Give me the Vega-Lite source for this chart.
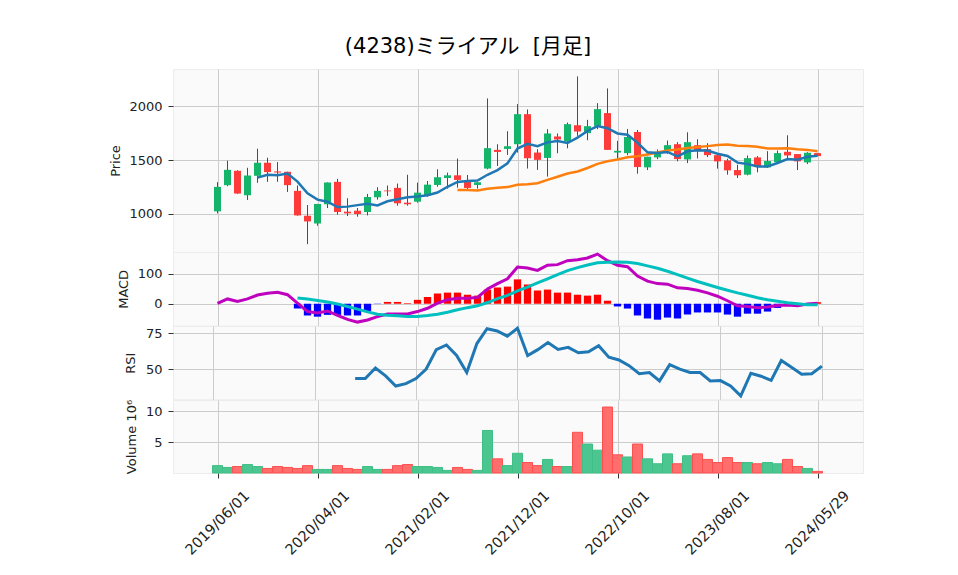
{
  "$schema": "https://vega.github.io/schema/vega-lite/v6.json",
  "background": "white",
  "padding": {"left": 108, "top": 35, "right": 10, "bottom": 5},
  "title": {"text": "(4238)ミライアル\u00a0\u00a0[月足]", "font": "DejaVu Sans, Noto Sans CJK JP", "fontSize": 21, "fontWeight": "normal", "color": "#000000", "anchor": "middle", "offset": 12, "dx": -18},
  "spacing": 0,
  "bounds": "flush",
  "config": {
    "view": {"fill": "#fafafa", "stroke": "#ececec"},
    "axis": {"labelFont": "DejaVu Sans", "titleFont": "DejaVu Sans", "labelFontSize": 13, "titleFontSize": 13, "titleFontWeight": "normal", "gridColor": "#cccccc", "gridWidth": 1, "tickColor": "#333333", "tickSize": 5, "labelPadding": 6, "domain": false, "labelColor": "#222222", "titleColor": "#222222", "titleBaseline": "middle", "format": "d"}
  },
  "data": {"values": [
    {"date":"2019-06-01","i":0,"open":1022,"high":1294,"low":1003,"close":1250,"volume":1.2,"trend":"up","ma5":null,"ma25":null,"macd":1,"signal":null,"hist":null,"rsi":null},
    {"date":"2019-07-01","i":1,"open":1266,"high":1494,"low":1256,"close":1409,"volume":0.9,"trend":"up","ma5":null,"ma25":null,"macd":16,"signal":null,"hist":null,"rsi":null},
    {"date":"2019-08-01","i":2,"open":1400,"high":1405,"low":1185,"close":1188,"volume":1.05,"trend":"down","ma5":null,"ma25":null,"macd":8,"signal":null,"hist":null,"rsi":null},
    {"date":"2019-09-01","i":3,"open":1172,"high":1428,"low":1128,"close":1356,"volume":1.37,"trend":"up","ma5":null,"ma25":null,"macd":16,"signal":null,"hist":null,"rsi":null},
    {"date":"2019-10-01","i":4,"open":1353,"high":1606,"low":1288,"close":1475,"volume":1.05,"trend":"up","ma5":1336,"ma25":null,"macd":29,"signal":null,"hist":null,"rsi":null},
    {"date":"2019-11-01","i":5,"open":1475,"high":1522,"low":1297,"close":1388,"volume":0.74,"trend":"down","ma5":1363,"ma25":null,"macd":35,"signal":null,"hist":null,"rsi":null},
    {"date":"2019-12-01","i":6,"open":1394,"high":1481,"low":1297,"close":1384,"volume":1.05,"trend":"down","ma5":1358,"ma25":null,"macd":38,"signal":null,"hist":null,"rsi":null},
    {"date":"2020-01-01","i":7,"open":1391,"high":1391,"low":1203,"close":1266,"volume":0.9,"trend":"down","ma5":1374,"ma25":null,"macd":30,"signal":null,"hist":null,"rsi":null},
    {"date":"2020-02-01","i":8,"open":1213,"high":1263,"low":981,"close":984,"volume":0.74,"trend":"down","ma5":1299,"ma25":null,"macd":2,"signal":19,"hist":-16,"rsi":null},
    {"date":"2020-03-01","i":9,"open":981,"high":1081,"low":716,"close":928,"volume":1.2,"trend":"down","ma5":1190,"ma25":null,"macd":-26,"signal":16,"hist":-39,"rsi":null},
    {"date":"2020-04-01","i":10,"open":909,"high":1091,"low":888,"close":1091,"volume":0.58,"trend":"up","ma5":1131,"ma25":null,"macd":-31,"signal":11,"hist":-43,"rsi":null},
    {"date":"2020-05-01","i":11,"open":1088,"high":1291,"low":1053,"close":1291,"volume":0.58,"trend":"up","ma5":1112,"ma25":null,"macd":-24,"signal":6,"hist":-37,"rsi":null},
    {"date":"2020-06-01","i":12,"open":1297,"high":1325,"low":991,"close":1016,"volume":1.2,"trend":"down","ma5":1062,"ma25":null,"macd":-39,"signal":-1,"hist":-37,"rsi":null},
    {"date":"2020-07-01","i":13,"open":1019,"high":1144,"low":978,"close":1003,"volume":0.74,"trend":"down","ma5":1066,"ma25":null,"macd":-52,"signal":-9,"hist":-39,"rsi":null},
    {"date":"2020-08-01","i":14,"open":1028,"high":1053,"low":972,"close":997,"volume":0.58,"trend":"down","ma5":1080,"ma25":null,"macd":-61,"signal":-18,"hist":-39,"rsi":43.3},
    {"date":"2020-09-01","i":15,"open":1016,"high":1184,"low":984,"close":1156,"volume":1.05,"trend":"up","ma5":1093,"ma25":null,"macd":-54,"signal":-27,"hist":-24,"rsi":43.3},
    {"date":"2020-10-01","i":16,"open":1153,"high":1247,"low":1131,"close":1213,"volume":0.58,"trend":"up","ma5":1077,"ma25":null,"macd":-43,"signal":-35,"hist":-1,"rsi":50.7},
    {"date":"2020-11-01","i":17,"open":1216,"high":1263,"low":1166,"close":1209,"volume":0.58,"trend":"down","ma5":1116,"ma25":null,"macd":-34,"signal":-38,"hist":6,"rsi":45.2},
    {"date":"2020-12-01","i":18,"open":1241,"high":1281,"low":1075,"close":1097,"volume":1.2,"trend":"down","ma5":1134,"ma25":null,"macd":-34,"signal":-40,"hist":6,"rsi":38.1},
    {"date":"2021-01-01","i":19,"open":1103,"high":1363,"low":1075,"close":1088,"volume":1.37,"trend":"down","ma5":1153,"ma25":null,"macd":-34,"signal":-42,"hist":2,"rsi":39.8},
    {"date":"2021-02-01","i":20,"open":1112,"high":1290,"low":1103,"close":1196,"volume":1.05,"trend":"up","ma5":1161,"ma25":null,"macd":-26,"signal":-42,"hist":13,"rsi":43.3},
    {"date":"2021-03-01","i":21,"open":1171,"high":1305,"low":1159,"close":1271,"volume":1.05,"trend":"up","ma5":1172,"ma25":null,"macd":-15,"signal":-39,"hist":22,"rsi":50},
    {"date":"2021-04-01","i":22,"open":1268,"high":1414,"low":1252,"close":1340,"volume":0.9,"trend":"up","ma5":1198,"ma25":null,"macd":2,"signal":-35,"hist":34,"rsi":63.6},
    {"date":"2021-05-01","i":23,"open":1333,"high":1383,"low":1234,"close":1358,"volume":0.42,"trend":"up","ma5":1251,"ma25":null,"macd":13,"signal":-28,"hist":37,"rsi":66.9},
    {"date":"2021-06-01","i":24,"open":1358,"high":1514,"low":1243,"close":1315,"volume":0.9,"trend":"down","ma5":1296,"ma25":1221,"macd":18,"signal":-20,"hist":37,"rsi":59.5},
    {"date":"2021-07-01","i":25,"open":1299,"high":1361,"low":1227,"close":1240,"volume":0.58,"trend":"down","ma5":1305,"ma25":1220,"macd":18,"signal":-13,"hist":30,"rsi":47.6},
    {"date":"2021-08-01","i":26,"open":1268,"high":1293,"low":1234,"close":1293,"volume":0.42,"trend":"up","ma5":1309,"ma25":1216,"macd":21,"signal":-7,"hist":27,"rsi":67.9},
    {"date":"2021-09-01","i":27,"open":1421,"high":2075,"low":1414,"close":1611,"volume":6.9,"trend":"up","ma5":1363,"ma25":1233,"macd":49,"signal":4,"hist":47,"rsi":78.3},
    {"date":"2021-10-01","i":28,"open":1595,"high":1648,"low":1445,"close":1576,"volume":2.3,"trend":"down","ma5":1407,"ma25":1241,"macd":67,"signal":17,"hist":54,"rsi":76.7},
    {"date":"2021-11-01","i":29,"open":1604,"high":1769,"low":1548,"close":1629,"volume":1.2,"trend":"up","ma5":1470,"ma25":1248,"macd":83,"signal":28,"hist":57,"rsi":73.1},
    {"date":"2021-12-01","i":30,"open":1648,"high":2022,"low":1570,"close":1928,"volume":3.2,"trend":"up","ma5":1607,"ma25":1269,"macd":122,"signal":43,"hist":81,"rsi":78.6},
    {"date":"2022-01-01","i":31,"open":1928,"high":1972,"low":1421,"close":1517,"volume":1.7,"trend":"down","ma5":1652,"ma25":1275,"macd":119,"signal":55,"hist":64,"rsi":59.5},
    {"date":"2022-02-01","i":32,"open":1570,"high":1601,"low":1408,"close":1502,"volume":1.2,"trend":"down","ma5":1630,"ma25":1284,"macd":111,"signal":69,"hist":44,"rsi":63.6},
    {"date":"2022-03-01","i":33,"open":1520,"high":1788,"low":1346,"close":1748,"volume":2.2,"trend":"up","ma5":1665,"ma25":1315,"macd":128,"signal":83,"hist":47,"rsi":68.6},
    {"date":"2022-04-01","i":34,"open":1720,"high":1748,"low":1564,"close":1692,"volume":1.05,"trend":"down","ma5":1677,"ma25":1345,"macd":130,"signal":97,"hist":37,"rsi":63.8},
    {"date":"2022-05-01","i":35,"open":1673,"high":1850,"low":1610,"close":1835,"volume":1.05,"trend":"up","ma5":1659,"ma25":1375,"macd":143,"signal":110,"hist":37,"rsi":65.2},
    {"date":"2022-06-01","i":36,"open":1825,"high":2280,"low":1726,"close":1766,"volume":6.6,"trend":"down","ma5":1709,"ma25":1394,"macd":146,"signal":120,"hist":30,"rsi":61.4},
    {"date":"2022-07-01","i":37,"open":1751,"high":1875,"low":1685,"close":1816,"volume":4.7,"trend":"up","ma5":1771,"ma25":1426,"macd":152,"signal":129,"hist":27,"rsi":62.1},
    {"date":"2022-08-01","i":38,"open":1819,"high":2031,"low":1788,"close":1975,"volume":3.7,"trend":"up","ma5":1817,"ma25":1465,"macd":165,"signal":136,"hist":30,"rsi":66.4},
    {"date":"2022-09-01","i":39,"open":1938,"high":2168,"low":1595,"close":1595,"volume":10.7,"trend":"down","ma5":1797,"ma25":1489,"macd":143,"signal":138,"hist":10,"rsi":58.3},
    {"date":"2022-10-01","i":40,"open":1570,"high":1679,"low":1514,"close":1586,"volume":2.95,"trend":"down","ma5":1748,"ma25":1506,"macd":128,"signal":139,"hist":-9,"rsi":56.4},
    {"date":"2022-11-01","i":41,"open":1565,"high":1790,"low":1545,"close":1715,"volume":2.6,"trend":"up","ma5":1737,"ma25":1526,"macd":123,"signal":138,"hist":-16,"rsi":52.4},
    {"date":"2022-12-01","i":42,"open":1762,"high":1781,"low":1373,"close":1435,"volume":4.7,"trend":"down","ma5":1661,"ma25":1535,"macd":92,"signal":134,"hist":-39,"rsi":46.7},
    {"date":"2023-01-01","i":43,"open":1432,"high":1531,"low":1407,"close":1531,"volume":2.3,"trend":"up","ma5":1572,"ma25":1552,"macd":75,"signal":126,"hist":-49,"rsi":47.6},
    {"date":"2023-02-01","i":44,"open":1525,"high":1599,"low":1509,"close":1562,"volume":1.5,"trend":"up","ma5":1566,"ma25":1571,"macd":67,"signal":118,"hist":-53,"rsi":41.7},
    {"date":"2023-03-01","i":45,"open":1583,"high":1682,"low":1559,"close":1639,"volume":3.1,"trend":"up","ma5":1576,"ma25":1589,"macd":65,"signal":108,"hist":-46,"rsi":53.1},
    {"date":"2023-04-01","i":46,"open":1648,"high":1667,"low":1488,"close":1509,"volume":1.5,"trend":"down","ma5":1535,"ma25":1599,"macd":53,"signal":97,"hist":-49,"rsi":50},
    {"date":"2023-05-01","i":47,"open":1506,"high":1759,"low":1472,"close":1667,"volume":2.8,"trend":"up","ma5":1582,"ma25":1612,"macd":51,"signal":85,"hist":-36,"rsi":47.6},
    {"date":"2023-06-01","i":48,"open":1639,"high":1694,"low":1515,"close":1583,"volume":3.1,"trend":"down","ma5":1592,"ma25":1621,"macd":45,"signal":74,"hist":-29,"rsi":47.6},
    {"date":"2023-07-01","i":49,"open":1602,"high":1657,"low":1528,"close":1546,"volume":2.2,"trend":"down","ma5":1589,"ma25":1630,"macd":36,"signal":64,"hist":-29,"rsi":41.7},
    {"date":"2023-08-01","i":50,"open":1546,"high":1546,"low":1420,"close":1488,"volume":1.7,"trend":"down","ma5":1559,"ma25":1640,"macd":25,"signal":54,"hist":-29,"rsi":41.9},
    {"date":"2023-09-01","i":51,"open":1497,"high":1512,"low":1364,"close":1404,"volume":2.5,"trend":"down","ma5":1538,"ma25":1644,"macd":10,"signal":45,"hist":-36,"rsi":38.1},
    {"date":"2023-10-01","i":52,"open":1407,"high":1457,"low":1333,"close":1358,"volume":1.7,"trend":"down","ma5":1476,"ma25":1634,"macd":-7,"signal":36,"hist":-43,"rsi":31.2},
    {"date":"2023-11-01","i":53,"open":1364,"high":1543,"low":1358,"close":1518,"volume":1.7,"trend":"up","ma5":1463,"ma25":1632,"macd":-9,"signal":28,"hist":-33,"rsi":47.1},
    {"date":"2023-12-01","i":54,"open":1525,"high":1537,"low":1386,"close":1435,"volume":1.5,"trend":"down","ma5":1441,"ma25":1624,"macd":-13,"signal":20,"hist":-33,"rsi":45},
    {"date":"2024-01-01","i":55,"open":1432,"high":1583,"low":1426,"close":1491,"volume":1.7,"trend":"up","ma5":1441,"ma25":1607,"macd":-11,"signal":13,"hist":-26,"rsi":42.1},
    {"date":"2024-02-01","i":56,"open":1481,"high":1589,"low":1463,"close":1565,"volume":1.5,"trend":"up","ma5":1473,"ma25":1608,"macd":-6,"signal":8,"hist":-14,"rsi":56},
    {"date":"2024-03-01","i":57,"open":1577,"high":1731,"low":1512,"close":1543,"volume":2.2,"trend":"down","ma5":1510,"ma25":1610,"macd":-4,"signal":3,"hist":-7,"rsi":51.2},
    {"date":"2024-04-01","i":58,"open":1556,"high":1556,"low":1407,"close":1488,"volume":1.05,"trend":"down","ma5":1504,"ma25":1600,"macd":-7,"signal":0,"hist":-7,"rsi":46.4},
    {"date":"2024-05-01","i":59,"open":1478,"high":1574,"low":1463,"close":1568,"volume":0.74,"trend":"up","ma5":1531,"ma25":1595,"macd":-1,"signal":-3,"hist":2,"rsi":46.7},
    {"date":"2024-05-29","i":60,"open":1565,"high":1565,"low":1537,"close":1537,"volume":0.26,"trend":"down","ma5":1540,"ma25":1583,"macd":2,"signal":-3,"hist":5,"rsi":52.1}
  ]},
  "vconcat": [
    {
      "width": 690, "height": 183,
      "encoding": {
        "x": {"field": "i", "type": "quantitative", "scale": {"domain": [-3.95, 64.05], "nice": false, "zero": false},
              "axis": {"values": [0,10,20,30,40,50,60], "labels": false, "ticks": false, "title": null, "grid": true}}
      },
      "layer": [
        {"mark": {"type": "rule", "color": "#4d4d4d", "strokeWidth": 1},
         "encoding": {
           "y": {"field": "low", "type": "quantitative", "scale": {"domain": [643, 2349], "nice": false, "zero": false},
                 "axis": {"values": [1000, 1500, 2000], "title": "Price", "titleX": -58}},
           "y2": {"field": "high"}}},
        {"mark": {"type": "bar", "size": 7},
         "encoding": {
           "y": {"field": "open", "type": "quantitative"},
           "y2": {"field": "close"},
           "color": {"condition": {"test": "datum.close >= datum.open", "value": "#14b46b"}, "value": "#fd3b3b"}}},
        {"mark": {"type": "line", "color": "#ff7f0e", "strokeWidth": 2.5},
         "encoding": {"y": {"field": "ma25", "type": "quantitative"}}},
        {"mark": {"type": "line", "color": "#1f77b4", "strokeWidth": 2.5},
         "encoding": {"y": {"field": "ma5", "type": "quantitative"}}}
      ]
    },
    {
      "width": 690, "height": 73.7,
      "encoding": {
        "x": {"field": "i", "type": "quantitative", "scale": {"domain": [-3.95, 64.05], "nice": false, "zero": false},
              "axis": {"values": [0,10,20,30,40,50,60], "labels": false, "ticks": false, "title": null, "grid": true}}
      },
      "layer": [
        {"mark": {"type": "bar", "size": 7.3},
         "encoding": {
           "y": {"field": "hist", "type": "quantitative", "scale": {"domain": [-73, 172], "nice": false, "zero": false},
                 "axis": {"values": [0, 100], "title": "MACD", "titleX": -49.6}},
           "y2": {"datum": 0},
           "color": {"condition": {"test": "datum.hist >= 0", "value": "#ff0000"}, "value": "#0000ff"}}},
        {"mark": {"type": "line", "color": "#bf00bf", "strokeWidth": 3},
         "encoding": {"y": {"field": "macd", "type": "quantitative"}}},
        {"mark": {"type": "line", "color": "#00bfbf", "strokeWidth": 3},
         "encoding": {"y": {"field": "signal", "type": "quantitative"}}}
      ]
    },
    {
      "width": 690, "height": 73.3,
      "encoding": {
        "x": {"field": "i", "type": "quantitative", "scale": {"domain": [-3.95, 64.05], "nice": false, "zero": false},
              "axis": {"values": [0,10,20,30,40,50,60], "labels": false, "ticks": false, "title": null, "grid": true}}
      },
      "layer": [
        {"mark": {"type": "line", "color": "#1f77b4", "strokeWidth": 3},
         "encoding": {"y": {"field": "rsi", "type": "quantitative", "scale": {"domain": [28.8, 80.2], "nice": false, "zero": false},
                 "axis": {"values": [50, 75], "title": "RSI", "titleX": -42.6}}}}
      ]
    },
    {
      "width": 690, "height": 73,
      "encoding": {
        "x": {"field": "i", "type": "quantitative", "scale": {"domain": [-3.95, 64.05], "nice": false, "zero": false},
              "axis": {"values": [0,10,20,30,40,50,60], "title": null, "grid": true, "labelAngle": -45, "labelAlign": "center", "labelBaseline": "middle", "labelPadding": 45, "labelFontSize": 14.5, "labelOverlap": false, "labelBound": false,
                       "labelExpr": "['2019/06/01','2020/04/01','2021/02/01','2021/12/01','2022/10/01','2023/08/01','2024/05/29'][round(datum.value/10)]"}}
      },
      "layer": [
        {"mark": {"type": "bar", "size": 10, "strokeWidth": 1},
         "encoding": {
           "y": {"field": "volume", "type": "quantitative", "scale": {"domain": [0, 11.84], "nice": false, "zero": false},
                 "axis": {"values": [5, 10], "title": "Volume  10⁶", "titleX": -42}},
           "fill": {"field": "trend", "type": "nominal", "scale": {"domain": ["up", "down"], "range": ["#4cc690", "#ff6d6d"]}, "legend": null},
           "stroke": {"field": "trend", "type": "nominal", "scale": {"domain": ["up", "down"], "range": ["#3dbf85", "#ff5050"]}, "legend": null}}}
      ]
    }
  ]
}
